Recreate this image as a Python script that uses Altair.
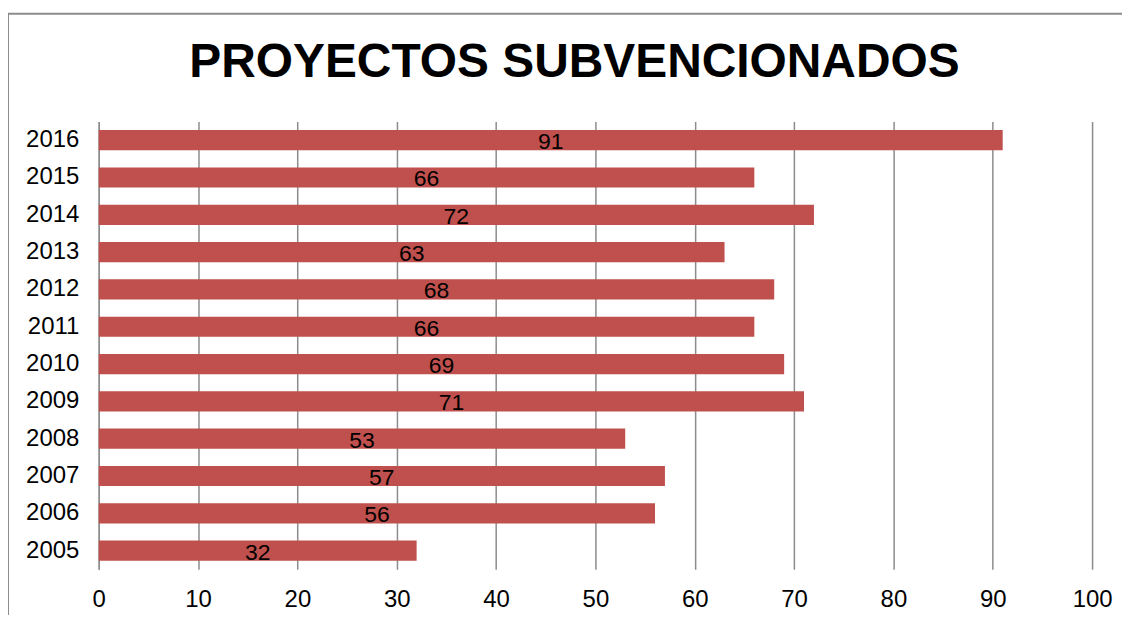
import altair as alt
import pandas as pd

years = ["2005", "2006", "2007", "2008", "2009", "2010", "2011", "2012", "2013", "2014", "2015", "2016"]
values = [32, 56, 57, 53, 71, 69, 66, 68, 63, 72, 66, 91]
x_ticks = [0, 10, 20, 30, 40, 50, 60, 70, 80, 90, 100]
title_text = "PROYECTOS SUBVENCIONADOS"

df = pd.DataFrame({"year": years, "value": values})
df["half"] = df["value"] / 2

FONT = "Liberation Sans"
W, H = 996, 449

y_enc = alt.Y("year:N", sort=alt.SortOrder("descending"), title=None,
              scale=alt.Scale(paddingInner=0.46, paddingOuter=0.23),
              axis=alt.Axis(labelFont=FONT, labelFontSize=24, labelColor="black",
                            labelPadding=20, ticks=False, domain=True,
                            domainColor="#8c8c8c", domainWidth=1.5, grid=False))
x_scale = alt.Scale(domain=[0, 100], nice=False)

bars = alt.Chart(df).mark_bar(color="#C0504D").encode(
    x=alt.X("value:Q", scale=x_scale, title=None,
            axis=alt.Axis(values=x_ticks, labelFont=FONT, labelFontSize=24,
                          labelColor="black", labelPadding=18, ticks=False,
                          labelFlush=False, labelOverlap=False,
                          domain=False, grid=True, gridColor="#8c8c8c",
                          gridWidth=1.5)),
    y=y_enc,
)

labels = alt.Chart(df).mark_text(font=FONT, fontSize=23, color="black",
                                 baseline="middle", align="center", dy=2).encode(
    x=alt.X("half:Q", scale=x_scale),
    y=alt.Y("year:N", sort=alt.SortOrder("descending")),
    text=alt.Text("value:Q"),
)

title = alt.Chart(pd.DataFrame({"t": [title_text]})).mark_text(
    font=FONT, fontSize=48, fontWeight="bold", color="black",
    align="center", baseline="middle").encode(
    x=alt.value(477), y=alt.value(-59), text="t:N")

frame_top = alt.Chart(pd.DataFrame({"a": [0]})).mark_rule(
    color="#8c8c8c", strokeWidth=2).encode(
    x=alt.value(-91), x2=alt.value(1100), y=alt.value(-108))
frame_left = alt.Chart(pd.DataFrame({"a": [0]})).mark_rule(
    color="#8c8c8c", strokeWidth=2).encode(
    x=alt.value(-91), y=alt.value(-108), y2=alt.value(520))

chart = alt.layer(frame_top, frame_left, bars, labels, title).properties(
    width=W, height=H,
    autosize=alt.AutoSizeParams(type="none"),
    padding={"left": 91, "top": 113, "right": 30, "bottom": 45},
).configure_view(stroke=None)

chart.save("out.html", embed_options={"renderer": "svg", "actions": False})
